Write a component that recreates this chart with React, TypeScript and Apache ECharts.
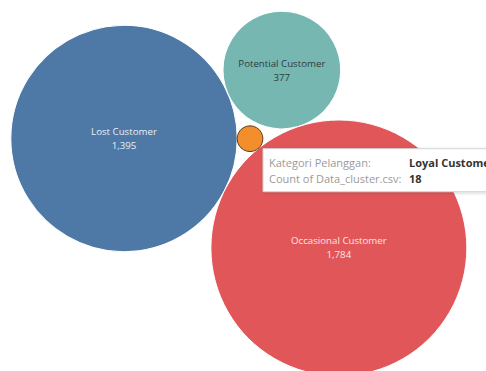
import React, { useEffect, useRef } from "react";
import * as echarts from "echarts";

// ---- data ----
const categories = ["Lost Customer", "Potential Customer", "Occasional Customer", "Loyal Customer"];
const counts = [1395, 377, 1784, 18];
const tooltipFieldLabels = ["Kategori Pelanggan:", "Count of Data_cluster.csv:"];
const highlightedIndex = 3;

// ---- styles ----
const fillColors = ["#4e79a7", "#76b7b2", "#e15759", "#f28e2b"];
const labelColors = ["#e9eef5", "#2f3b3a", "#fbe4e4", "#333333"];

const W = 486;
const H = 371;
const fmt = (v: number) => v.toLocaleString("en-US");

type P = { x: number; y: number };

// place circle of radius r tangent to circles A and B
function tangent(a: P, ra: number, b: P, rb: number, r: number, side: number): P {
  const dA = ra + r;
  const dB = rb + r;
  const dx = b.x - a.x;
  const dy = b.y - a.y;
  const d = Math.sqrt(dx * dx + dy * dy);
  const ux = dx / d;
  const uy = dy / d;
  const along = (dA * dA - dB * dB + d * d) / (2 * d);
  const h = Math.sqrt(Math.max(0, dA * dA - along * along));
  return { x: a.x + along * ux - side * h * uy, y: a.y + along * uy + side * h * ux };
}

export default function App() {
  const ref = useRef<HTMLDivElement>(null);
  useEffect(() => {
    if (!ref.current) return;
    const chart = echarts.init(ref.current, undefined, { renderer: "svg" });

    // packed-bubble layout: radius proportional to sqrt(count)
    const k = 3.03;
    const radii = counts.map((v) => k * Math.sqrt(v));
    const lost: P = { x: 124, y: 138.5 };
    const theta = (27 * Math.PI) / 180;
    const occ: P = {
      x: lost.x + (radii[0] + radii[2]) * Math.cos(theta),
      y: lost.y + (radii[0] + radii[2]) * Math.sin(theta),
    };
    const pot = tangent(lost, radii[0], occ, radii[2], radii[1], -1);
    const loyal = tangent(lost, radii[0], occ, radii[2], radii[3], -1);
    const centers = [lost, pot, occ, loyal];

    const data = categories.map((name, i) => ({
      name,
      value: [centers[i].x, centers[i].y, counts[i]],
      symbolSize: radii[i] * 2,
      itemStyle: {
        color: fillColors[i],
        opacity: 1,
        borderColor: i === highlightedIndex ? "#5a3d1e" : "#ffffff",
        borderWidth: 1,
      },
      label: {
        show: i !== highlightedIndex,
        color: labelColors[i],
      },
    }));

    const tipX = loyal.x + 13;
    const tipY = loyal.y + 10;
    const font = "'Open Sans', 'Noto Sans', sans-serif";
    const Z = 100;

    chart.setOption({
      animation: false,
      backgroundColor: "#ffffff",
      grid: { left: 0, right: 0, top: 0, bottom: 0 },
      xAxis: { type: "value", min: 0, max: W, show: false },
      yAxis: { type: "value", min: 0, max: H, inverse: true, show: false },
      series: [
        {
          type: "scatter",
          data,
          itemStyle: { opacity: 1 },
          label: {
            show: true,
            position: "inside",
            fontFamily: font,
            fontSize: 9.7,
            lineHeight: 14,
            formatter: (p: any) => `${p.name}\n${fmt(p.value[2])}`,
          },
          emphasis: { disabled: true },
        },
      ],
      graphic: [
        {
          type: "rect",
          z: Z,
          shape: { x: tipX, y: tipY, width: 250, height: 43 },
          style: {
            fill: "#ffffff",
            stroke: "#d6d6d6",
            lineWidth: 1,
            shadowBlur: 3,
            shadowColor: "rgba(0,0,0,0.2)",
            shadowOffsetX: 1,
            shadowOffsetY: 1,
          },
        },
        {
          type: "text",
          z: Z + 1,
          x: tipX + 6,
          y: tipY + 14,
          style: {
            text: tooltipFieldLabels[0],
            fill: "#9a9a9a",
            font: `11px ${font}`,
            verticalAlign: "middle",
          },
        },
        {
          type: "text",
          z: Z + 1,
          x: tipX + 6,
          y: tipY + 30,
          style: {
            text: tooltipFieldLabels[1],
            fill: "#9a9a9a",
            font: `11px ${font}`,
            verticalAlign: "middle",
          },
        },
        {
          type: "text",
          z: Z + 1,
          x: tipX + 146,
          y: tipY + 14,
          style: {
            text: categories[highlightedIndex],
            fill: "#333333",
            font: `bold 11px ${font}`,
            verticalAlign: "middle",
          },
        },
        {
          type: "text",
          z: Z + 1,
          x: tipX + 146,
          y: tipY + 30,
          style: {
            text: fmt(counts[highlightedIndex]),
            fill: "#333333",
            font: `bold 11px ${font}`,
            verticalAlign: "middle",
          },
        },
      ],
    });
    return () => chart.dispose();
  }, []);

  return (
    <div
      ref={ref}
      style={{ position: "absolute", left: 0, top: 0, width: W, height: H }}
    />
  );
}
